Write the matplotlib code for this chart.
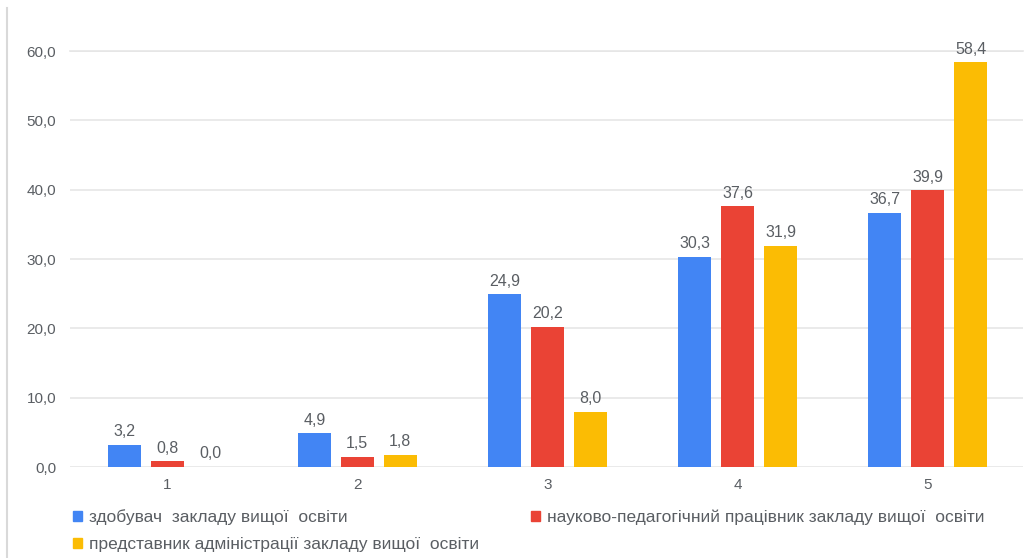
import matplotlib.pyplot as plt
import numpy as np
from matplotlib.lines import Line2D
from matplotlib.patches import Patch

plt.rcParams['font.family'] = ['Liberation Sans', 'DejaVu Sans']

categories = ['1', '2', '3', '4', '5']
series_names = [
    'здобувач  закладу вищої  освіти',
    'науково-педагогічний працівник закладу вищої  освіти',
    'представник адміністрації закладу вищої  освіти',
]
students = [3.2, 4.9, 24.9, 30.3, 36.7]
teachers = [0.8, 1.5, 20.2, 37.6, 39.9]
admins = [0.0, 1.8, 8.0, 31.9, 58.4]
yticks = [0, 10, 20, 30, 40, 50, 60]

colors = ['#4285F4', '#EA4335', '#FBBC04']
text_gray = '#5a5e63'

fig = plt.figure(figsize=(10.31, 5.58), dpi=100)
ax = fig.add_axes([0.068, 0.163, 0.924, 0.7456])

x = np.arange(1, len(categories) + 1)
width = 0.174
step = 0.226

for i, (vals, col) in enumerate(zip([students, teachers, admins], colors)):
    bars = ax.bar(x + (i - 1) * step, vals, width, color=col, zorder=3)
    for b, v in zip(bars, vals):
        ax.annotate(f'{v:.1f}'.replace('.', ','),
                    xy=(b.get_x() + b.get_width() / 2, v),
                    xytext=(0, 4), textcoords='offset points',
                    ha='center', va='bottom', fontsize=11.5,
                    color=text_gray, annotation_clip=False)

ax.set_xlim(0.49, 5.5)
ax.set_ylim(0, 60)
ax.set_xticks(x)
ax.set_xticklabels(categories)
ax.set_yticks(yticks)
ax.set_yticklabels([f'{t:.1f}'.replace('.', ',') for t in yticks])
ax.tick_params(axis='both', length=0, labelsize=11, labelcolor=text_gray)
ax.tick_params(axis='y', pad=10)
ax.tick_params(axis='x', pad=8)
ax.yaxis.grid(True, color='#e6e6e6', linewidth=1.2, zorder=0)
ax.set_axisbelow(True)
for s in ax.spines.values():
    s.set_visible(False)
# the top gridline sits on the axes edge, draw it explicitly
ax.axhline(60, color='#e6e6e6', linewidth=1.2, zorder=0, clip_on=False)

handles = [Patch(color=colors[0]), Patch(color=colors[2]), Patch(color=colors[1])]
labels = [series_names[0], series_names[2], series_names[1]]
fig.legend(handles, labels, ncol=2, loc='upper left',
           bbox_to_anchor=(0.071, 0.087), frameon=False,
           fontsize=12.5, labelcolor=text_gray,
           handlelength=0.5, handleheight=0.5, handletextpad=0.4,
           columnspacing=3.0, labelspacing=0.68, borderpad=0, borderaxespad=0)

fig.add_artist(Line2D([0.007, 0.007], [0, 0.985], transform=fig.transFigure,
                      color='#d9d9d9', linewidth=1.5))

fig.savefig('out.png', dpi=100)
